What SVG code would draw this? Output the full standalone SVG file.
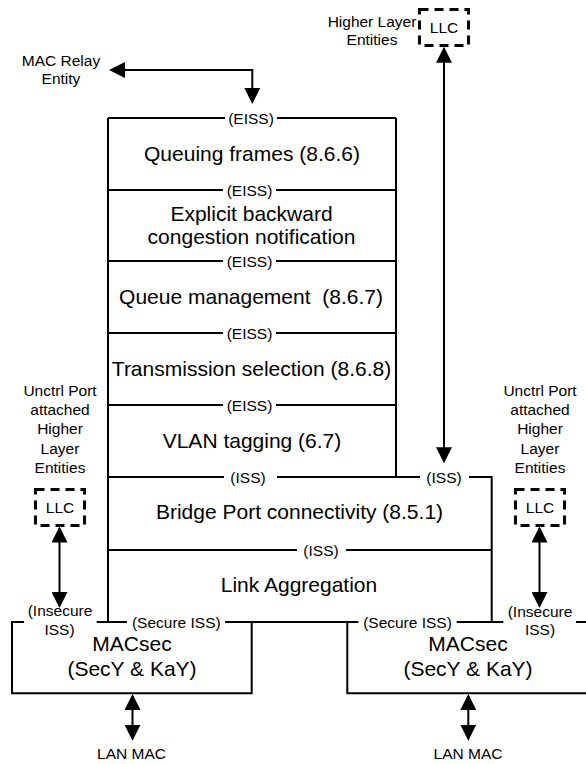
<svg xmlns="http://www.w3.org/2000/svg" width="586" height="764" viewBox="0 0 586 764">
<style>
text{font-family:"Liberation Sans",Arial,Helvetica,sans-serif;fill:#000;text-anchor:middle}
.s{font-size:15.5px}
.b{font-size:21px}
.ln{stroke:#000;stroke-width:2;fill:none}
.llc{stroke:#000;stroke-width:3;fill:none;stroke-dasharray:9 6}
.arr{stroke:#000;stroke-width:2;fill:none;marker-end:url(#ah)}
.arr2{stroke:#000;stroke-width:2;fill:none;marker-start:url(#ah);marker-end:url(#ah)}
</style>
<defs>
<marker id="ah" markerUnits="userSpaceOnUse" markerWidth="16" markerHeight="16" refX="14" refY="8" orient="auto-start-reverse" viewBox="0 0 16 16">
<path d="M0,0 L16,8 L0,16 z" fill="#000"/>
</marker>
</defs>
<rect width="586" height="764" fill="#fff"/>

<g id="frame" class="ln">
<path d="M108,118 H225 M277,118 H396"/>
<path d="M108,190 H223 M276,190 H396"/>
<path d="M108,261 H223 M276,261 H396"/>
<path d="M108,333 H223 M276,333 H396"/>
<path d="M108,405 H223 M276,405 H396"/>
<path d="M108,477 H224 M277,477 H420 M469,477 H491.7 V622"/>
<path d="M108,550 H297 M346,550 H491.7"/>
<path d="M108,118 V622"/>
<path d="M396,118 V477"/>
<path d="M24,622 H12 V693.3 H251.7 V622"/>
<path d="M96.7,622 H127 M225,622 H358.3 M456.7,622 H503.3 M576,622 H590"/>
<path d="M347.3,622 V693.3 H590"/>
</g>

<g id="relay-label">
<text class="s" x="61" y="66">MAC Relay</text>
<text class="s" x="61" y="84">Entity</text>
</g>

<g id="hle-top">
<text class="s" x="372" y="26.5">Higher Layer</text>
<text class="s" x="372" y="45">Entities</text>
</g>
<g id="llc-top">
<rect class="llc" x="419.5" y="9.5" width="49" height="36"/>
<text class="s" x="444" y="33">LLC</text>
</g>

<g id="queuing">
<text class="s" x="251" y="123.5">(EISS)</text>
<text class="b" x="252" y="161">Queuing frames (8.6.6)</text>
</g>
<g id="ebcn">
<text class="s" x="249.5" y="195.5">(EISS)</text>
<text class="b" x="251.5" y="220.5">Explicit backward</text>
<text class="b" x="251.5" y="243.5">congestion notification</text>
</g>
<g id="queue-mgmt">
<text class="s" x="249.5" y="266.5">(EISS)</text>
<text class="b" x="251" y="304" xml:space="preserve">Queue management  (8.6.7)</text>
</g>
<g id="tx-sel">
<text class="s" x="249.5" y="338.5">(EISS)</text>
<text class="b" x="251.5" y="375.5">Transmission selection (8.6.8)</text>
</g>
<g id="vlan">
<text class="s" x="249.5" y="410.5">(EISS)</text>
<text class="b" x="252" y="448">VLAN tagging (6.7)</text>
</g>
<g id="bridge-port">
<text class="s" x="248" y="482.5">(ISS)</text>
<text class="s" x="444" y="482.5">(ISS)</text>
<text class="b" x="299.5" y="519">Bridge Port connectivity (8.5.1)</text>
</g>
<g id="link-agg">
<text class="s" x="321" y="555.5">(ISS)</text>
<text class="b" x="299" y="592">Link Aggregation</text>
</g>

<g id="hle-left">
<text class="s" x="60" y="396">Unctrl Port</text>
<text class="s" x="60" y="415.2">attached</text>
<text class="s" x="60" y="434.4">Higher</text>
<text class="s" x="60" y="453.6">Layer</text>
<text class="s" x="60" y="472.8">Entities</text>
</g>
<g id="llc-left">
<rect class="llc" x="35.5" y="489.5" width="49" height="36"/>
<text class="s" x="60" y="512.5">LLC</text>
</g>
<g id="hle-right">
<text class="s" x="540" y="396">Unctrl Port</text>
<text class="s" x="540" y="415.2">attached</text>
<text class="s" x="540" y="434.4">Higher</text>
<text class="s" x="540" y="453.6">Layer</text>
<text class="s" x="540" y="472.8">Entities</text>
</g>
<g id="llc-right">
<rect class="llc" x="515.5" y="489.5" width="49" height="36"/>
<text class="s" x="540" y="512.5">LLC</text>
</g>

<g id="macsec-left">
<text class="s" x="60" y="616">(Insecure</text>
<text class="s" x="59.5" y="634.5">ISS)</text>
<text class="s" x="176.3" y="627.5">(Secure ISS)</text>
<text class="b" x="132" y="651">MACsec</text>
<text class="b" x="132" y="676">(SecY &amp; KaY)</text>
</g>
<g id="macsec-right">
<text class="s" x="407.5" y="627.5">(Secure ISS)</text>
<text class="s" x="540" y="616.5">(Insecure</text>
<text class="s" x="540" y="635">ISS)</text>
<text class="b" x="468" y="651">MACsec</text>
<text class="b" x="468" y="676">(SecY &amp; KaY)</text>
</g>

<g id="lan-left"><text class="s" x="131.5" y="759">LAN MAC</text></g>
<g id="lan-right"><text class="s" x="468" y="759">LAN MAC</text></g>

<g id="connectors">
<path class="arr2" d="M111,70 H252.3 V102"/>
<path class="arr2" d="M444,48.7 V461.3"/>
<path class="arr2" d="M59.5,528.5 V606"/>
<path class="arr2" d="M539.5,528.5 V606"/>
<path class="arr2" d="M132.5,696 V738.7"/>
<path class="arr2" d="M468.3,696 V738.7"/>
</g>
</svg>
